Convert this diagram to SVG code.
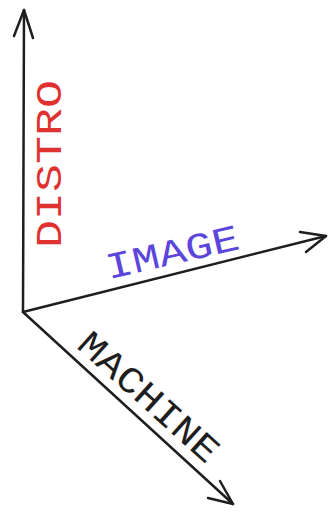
<svg xmlns="http://www.w3.org/2000/svg" width="329" height="512" viewBox="0 0 329 512">
<style>
.ax{fill:none;stroke:#1e1e1e;stroke-width:2.5;stroke-linecap:round;stroke-linejoin:round}
.lbl{font-family:"Liberation Mono","DejaVu Sans Mono",monospace;font-size:37px;text-anchor:middle}
</style>
<rect width="329" height="512" fill="#fff"/>
<g id="connectors">
<path class="ax" d="M23,312 L24,10"/>
<path class="ax" d="M14,36 L24,10 L33,38"/>
<path class="ax" d="M23,312 L326,236"/>
<path class="ax" d="M300,232 L326,236 L306,252"/>
<path class="ax" d="M23,312 L233,504"/>
<path class="ax" d="M220,481 L233,504 L208,498"/>
</g>
<g id="distro"><text class="lbl" fill="#e03131" transform="translate(61,164) rotate(-90)" textLength="168" lengthAdjust="spacingAndGlyphs">DISTRO</text></g>
<g id="image"><text class="lbl" fill="#5b45dd" transform="translate(175,264) rotate(-13)" textLength="136" lengthAdjust="spacingAndGlyphs">IMAGE</text></g>
<g id="machine"><text class="lbl" fill="#1e1e1e" transform="translate(141,406) rotate(42)" textLength="176" lengthAdjust="spacingAndGlyphs">MACHINE</text></g>
</svg>
